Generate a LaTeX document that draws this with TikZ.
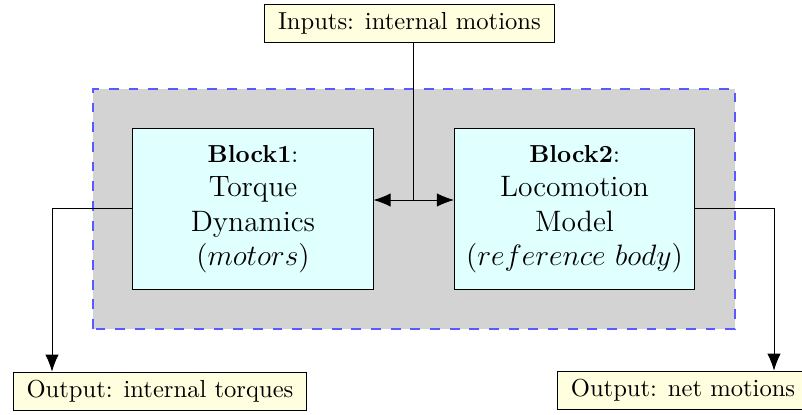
\documentclass[tikz,border=0pt]{standalone}
\usepackage{tikz}
\usetikzlibrary{arrows.meta,calc}
\definecolor{blockfill}{RGB}{224,255,255}
\definecolor{iofill}{RGB}{255,255,224}
\definecolor{groupfill}{RGB}{211,211,211}
\tikzset{
	block/.style={draw, fill=blockfill, minimum width=3.43cm, minimum height=2.29cm, align=center, font=\large, inner sep=2pt},
	iobox/.style={draw, fill=iofill, inner xsep=5.5pt},
	>={Latex[length=7pt,width=5.5pt]},
}

\begin{document}
\begin{tikzpicture}
			%%%%% START %%%%%
			\useasboundingbox (0, 0) rectangle (11.46, 5.93);
			
			\draw[fill=groupfill, draw=blue!65, dash pattern=on 4pt off 4pt, semithick] (1.33, 1.23) rectangle (10.50, 4.66);
			
			\node[block] (torque) at (3.615, 2.944) {{\normalsize\textbf{Block1}:}\\Torque\\Dynamics\\$(motors)$};
			\node[block] (loco) at (8.21, 2.944) {{\normalsize\textbf{Block2}:}\\Locomotion\\Model\\$(reference\ body)$};
			
			\node[iobox] (inputs) at (5.85, 5.595) {Inputs: internal motions};
			\node[iobox] (outtorque) at (2.286, 0.336) {Output: internal torques};
			\node[iobox] (outnet) at (9.76, 0.35) {Output: net motions};
			
			\coordinate (mid) at ($(torque.east)!0.5!(loco.west)+(0, 0.128)$);
			\draw[<->] (torque.east |- mid) -- (loco.west |- mid);
			\draw (mid |- inputs.south) -- (mid);
			
			\coordinate (leftdrop) at (0.743, 2.944);
			\coordinate (rightdrop) at (11.06, 2.944);
			\draw[->] (torque.west) -- (leftdrop) -- (leftdrop |- outtorque.north);
			\draw[->] (loco.east) -- (rightdrop) -- (rightdrop |- outnet.north);
			
			%%%%% END %%%%%
\end{tikzpicture}
\end{document}
